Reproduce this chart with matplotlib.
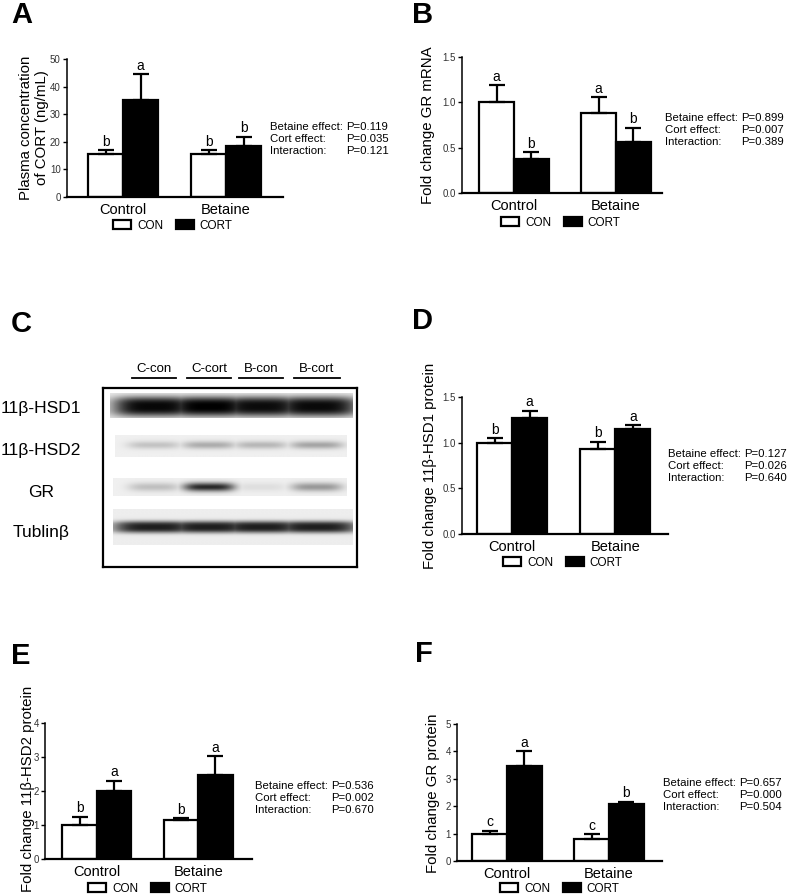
import numpy as np
import matplotlib
matplotlib.use("Agg")
import matplotlib.pyplot as plt
from matplotlib.patches import Patch

plt.rcParams['font.family'] = ['Liberation Sans', 'DejaVu Sans']

W, H = 787, 896
fig = plt.figure(figsize=(W / 100, H / 100), dpi=100)

# ---------------- data ----------------
groups = ["Control", "Betaine"]
series = ["CON", "CORT"]
p_labels = ["Betaine effect:", "Cort effect:", "Interaction:"]

A_con = [15.5, 15.5]
A_con_err = [1.5, 1.4]
A_cort = [35.0, 18.5]
A_cort_err = [9.5, 3.4]
A_con_let = ["b", "b"]
A_cort_let = ["a", "b"]
A_p = ["P=0.119", "P=0.035", "P=0.121"]
A_yticks = [0, 10, 20, 30, 40, 50]

B_con = [1.00, 0.88]
B_con_err = [0.19, 0.18]
B_cort = [0.38, 0.56]
B_cort_err = [0.07, 0.16]
B_con_let = ["a", "a"]
B_cort_let = ["b", "b"]
B_p = ["P=0.899", "P=0.007", "P=0.389"]
B_yticks = [0.0, 0.5, 1.0, 1.5]

D_con = [1.00, 0.93]
D_con_err = [0.05, 0.08]
D_cort = [1.27, 1.15]
D_cort_err = [0.08, 0.04]
D_con_let = ["b", "b"]
D_cort_let = ["a", "a"]
D_p = ["P=0.127", "P=0.026", "P=0.640"]
D_yticks = [0.0, 0.5, 1.0, 1.5]

E_con = [1.00, 1.15]
E_con_err = [0.25, 0.05]
E_cort = [2.00, 2.47]
E_cort_err = [0.30, 0.55]
E_con_let = ["b", "b"]
E_cort_let = ["a", "a"]
E_p = ["P=0.536", "P=0.002", "P=0.670"]
E_yticks = [0, 1, 2, 3, 4]

F_con = [1.00, 0.82]
F_con_err = [0.10, 0.15]
F_cort = [3.47, 2.07]
F_cort_err = [0.53, 0.10]
F_con_let = ["c", "c"]
F_cort_let = ["a", "b"]
F_p = ["P=0.657", "P=0.000", "P=0.504"]
F_yticks = [0, 1, 2, 3, 4, 5]

# western blot (panel C)
lanes = ["C-con", "C-cort", "B-con", "B-cort"]
blot_rows = ["11\u03b2-HSD1", "11\u03b2-HSD2", "GR", "Tublin\u03b2"]
band_HSD1 = [0.97, 1.00, 0.95, 0.96]
band_HSD2 = [0.30, 0.45, 0.38, 0.50]
band_GR = [0.22, 0.92, 0.08, 0.40]
band_TUB = [0.92, 0.92, 0.92, 0.92]


# ---------------- helpers ----------------
def add_ax(x0, y0, x1, y1):
    return fig.add_axes([x0 / W, 1 - y1 / H, (x1 - x0) / W, (y1 - y0) / H])


def ftext(x, y, s, **kw):
    return fig.text(x / W, 1 - y / H, s, **kw)


BW = 0.34


def bar_panel(box, xlim, yticks, fmt, con, con_err, cort, cort_err,
              con_let, cort_let, pvals, p_pos, leg_pos, ylabel, ylab_pos,
              letter, letter_pos):
    ax = add_ax(*box)
    g = np.arange(len(groups))
    xc = g - BW / 2
    xk = g + BW / 2
    ax.bar(xc, con, BW, color="white", edgecolor="black", linewidth=1.6,
           zorder=2, label=series[0])
    ax.bar(xk, cort, BW, color="black", edgecolor="black", linewidth=1.6,
           zorder=2, label=series[1])
    ax.errorbar(xc, con, yerr=[np.zeros(len(con)), con_err], fmt="none",
                ecolor="black", elinewidth=1.6, capsize=6, capthick=1.6, zorder=3)
    ax.errorbar(xk, cort, yerr=[np.zeros(len(cort)), cort_err], fmt="none",
                ecolor="black", elinewidth=1.6, capsize=6, capthick=1.6, zorder=3)
    for x, v, e, l in zip(xc, con, con_err, con_let):
        ax.annotate(l, (x, v + e), xytext=(0, 1.0), textcoords="offset points",
                    ha="center", va="bottom", fontsize=10)
    for x, v, e, l in zip(xk, cort, cort_err, cort_let):
        ax.annotate(l, (x, v + e), xytext=(0, 1.0), textcoords="offset points",
                    ha="center", va="bottom", fontsize=10)
    ax.set_xlim(*xlim)
    ax.set_ylim(yticks[0], yticks[-1])
    ax.set_yticks(yticks)
    ax.set_yticklabels([fmt.format(t) for t in yticks])
    ax.set_xticks(g)
    ax.set_xticklabels(groups)
    for s in ["top", "right"]:
        ax.spines[s].set_visible(False)
    ax.spines["left"].set_linewidth(1.1)
    ax.spines["bottom"].set_linewidth(1.6)
    ax.tick_params(axis="y", length=3, width=1, labelsize=7,
                   labelcolor="#333333", pad=1.5)
    ax.tick_params(axis="x", length=0, labelsize=10.5, pad=4)
    ax.set_facecolor("none")
    # P-value text
    px, py = p_pos
    for i, (lab, pv) in enumerate(zip(p_labels, pvals)):
        ftext(px, py + i * 11.8, lab, fontsize=8.2, va="center", ha="left")
        ftext(px + 76, py + i * 11.8, pv, fontsize=8.2, va="center", ha="left")
    # legend
    handles = [Patch(facecolor="white", edgecolor="black", linewidth=1.6),
               Patch(facecolor="black", edgecolor="black", linewidth=1.6)]
    ax.legend(handles, series, loc="center", ncol=2, frameon=False,
              bbox_to_anchor=(leg_pos[0] / W, 1 - leg_pos[1] / H),
              bbox_transform=fig.transFigure, fontsize=8.5,
              handlelength=1.5, handleheight=0.8, handletextpad=0.5,
              columnspacing=1.1, borderpad=0, borderaxespad=0)
    # y label
    ftext(ylab_pos[0], ylab_pos[1], ylabel, rotation=90, fontsize=10.8,
          ha="center", va="center", linespacing=1.15)
    ftext(letter_pos[0], letter_pos[1], letter, fontsize=21,
          fontweight="bold", ha="left", va="top")
    return ax


bar_panel((67, 59, 283, 197), (-0.544, 1.553), A_yticks, "{:d}",
          A_con, A_con_err, A_cort, A_cort_err, A_con_let, A_cort_let,
          A_p, (270, 127), (173, 226),
          "Plasma concentration\nof CORT (ng/mL)", (34, 128), "A", (11, 1))

bar_panel((462, 57, 662, 193), (-0.51, 1.45), B_yticks, "{:.1f}",
          B_con, B_con_err, B_cort, B_cort_err, B_con_let, B_cort_let,
          B_p, (665, 118), (561, 223),
          "Fold change GR mRNA", (428, 125), "B", (412, 1))

bar_panel((462, 397, 668, 534), (-0.485, 1.51), D_yticks, "{:.1f}",
          D_con, D_con_err, D_cort, D_cort_err, D_con_let, D_cort_let,
          D_p, (668, 454), (563, 563),
          "Fold change 11\u03b2-HSD1 protein", (430, 466), "D", (412, 307))

bar_panel((45, 723, 252, 859), (-0.51, 1.53), E_yticks, "{:d}",
          E_con, E_con_err, E_cort, E_cort_err, E_con_let, E_cort_let,
          E_p, (255, 786), (148, 889),
          "Fold change 11\u03b2-HSD2 protein", (28, 789), "E", (11, 642))

bar_panel((457, 724, 662, 861), (-0.49, 1.52), F_yticks, "{:d}",
          F_con, F_con_err, F_cort, F_cort_err, F_con_let, F_cort_let,
          F_p, (663, 783), (560, 889),
          "Fold change GR protein", (433, 793), "F", (415, 640))

# ---------------- panel C: western blot ----------------
ftext(11, 310, "C", fontsize=21, fontweight="bold", ha="left", va="top")
bx = add_ax(103, 388, 357, 567)
bx.set_xlim(103, 357)
bx.set_ylim(567, 388)
bx.set_xticks([])
bx.set_yticks([])
for s in bx.spines.values():
    s.set_linewidth(1.6)

lane_c = np.array([154, 209, 261, 317])
lane_half = [22, 22, 22, 23]
for name, c, hw in zip(lanes, lane_c, lane_half):
    ftext(c, 369, name, fontsize=9.5, ha="center", va="center")
    fig.add_artist(plt.Line2D([(c - hw) / W, (c + hw) / W],
                              [1 - 378 / H, 1 - 378 / H], color="black", lw=1.3))


def strip(x0, x1, y0, y1, yc, half_h, inten, bg, dark, lane_w, power=2.0):
    xs = np.linspace(x0, x1, 300)
    ys = np.linspace(y0, y1, 60)
    hx = np.zeros_like(xs)
    for c, a in zip(lane_c, inten):
        hx = np.maximum(hx, a * np.exp(-np.abs((xs - c) / lane_w) ** 4))
    vy = np.exp(-np.abs((ys - yc) / half_h) ** power)
    img = bg - (bg - dark) * vy[:, None] * hx[None, :]
    bx.imshow(img, cmap="gray", vmin=0, vmax=1, extent=(x0, x1, y1, y0),
              aspect="auto", interpolation="bilinear", zorder=1)


strip(110, 353, 393, 418, 406.5, 10.0, band_HSD1, 0.92, 0.0, 42, power=3)
strip(115, 347, 435, 457, 445, 4.0, band_HSD2, 0.94, 0.35, 27)
strip(113, 347, 478, 496, 487, 4.5, band_GR, 0.94, 0.08, 26)
strip(113, 353, 509, 545, 527, 6.0, band_TUB, 0.93, 0.05, 42, power=3)

row_y = [408, 450, 492, 532]
for name, y in zip(blot_rows, row_y):
    ftext(41, y, name, fontsize=12.5, ha="center", va="center")

fig.savefig("out.png", dpi=100)
